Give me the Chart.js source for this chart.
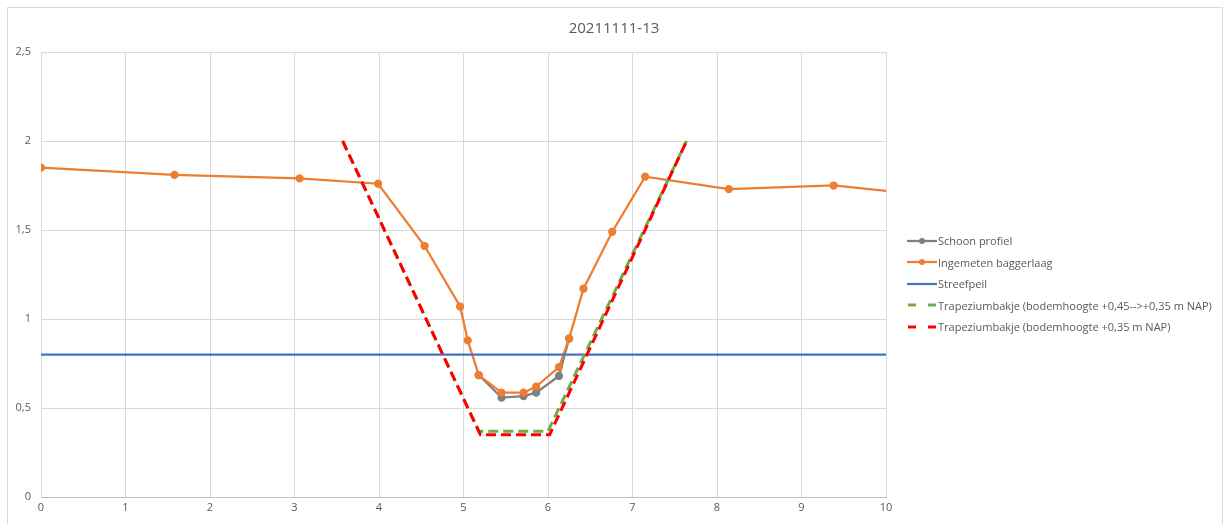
<!DOCTYPE html>
<html>
<head>
<meta charset="utf-8">
<script src="https://cdn.jsdelivr.net/npm/chart.js@4/dist/chart.umd.min.js"></script>
<style>
    body { margin: 0; background: #fff; font-family: "Open Sans", "Noto Sans", sans-serif; }
    #wrap { position: relative; width: 1228px; height: 524px; }
    #frame { position: absolute; left: 7px; top: 7px; width: 1214px; height: 530px; border: 1px solid #d9d9d9; }
    #title { position: absolute; left: 0; width: 1228px; top: 17px; text-align: center; font-size: 15px; color: #595959; }
    #legend { position: absolute; left: 907px; top: 230px; font-size: 11px; color: #595959; }
    #legend div { height: 21.5px; display: flex; align-items: center; white-space: nowrap; }
    #legend svg { margin-right: 1px; }
</style>
</head>
<body>
<div id="wrap">
    <div id="frame"></div>
    <canvas id="chart" width="1228" height="524"></canvas>
    <div id="title">20211111-13</div>
    <div id="legend"></div>
</div>
<script>
// Schoon profiel
const schoonX = [5.18, 5.45, 5.71, 5.86, 6.13, 6.25];
const schoonY = [0.685, 0.558, 0.567, 0.586, 0.68, 0.89];

// Ingemeten baggerlaag
const baggerX = [0, 1.58, 3.06, 3.99, 4.54, 4.96, 5.05, 5.18, 5.45, 5.71, 5.86, 6.13, 6.25, 6.42, 6.76, 7.15, 8.14, 9.38, 10.6];
const baggerY = [1.85, 1.81, 1.79, 1.76, 1.41, 1.07, 0.88, 0.685, 0.586, 0.586, 0.62, 0.73, 0.89, 1.17, 1.49, 1.80, 1.73, 1.75, 1.69];

// Streefpeil
const streefX = [0, 10];
const streefY = [0.8, 0.8];

// Trapeziumbakjes
const trapGroenX = [3.57, 5.18, 6.0, 7.64];
const trapGroenY = [2.0, 0.37, 0.37, 2.0];
const trapRoodX = [3.57, 5.2, 6.02, 7.64];
const trapRoodY = [2.0, 0.35, 0.35, 2.0];

const labels = [
    "Schoon profiel",
    "Ingemeten baggerlaag",
    "Streefpeil",
    "Trapeziumbakje (bodemhoogte +0,45-->+0,35 m NAP)",
    "Trapeziumbakje (bodemhoogte +0,35 m NAP)"
];

function punten(xs, ys) {
    return xs.map((x, i) => ({ x: x, y: ys[i] }));
}

const series = [
    { data: punten(schoonX, schoonY), color: "#7f7f7f", marker: true, dash: [], order: 5 },
    { data: punten(baggerX, baggerY), color: "#ed7d31", marker: true, dash: [], order: 4 },
    { data: punten(streefX, streefY), color: "#4472c4", marker: false, dash: [], order: 3 },
    { data: punten(trapGroenX, trapGroenY), color: "#70ad47", marker: false, dash: [10, 5], order: 2 },
    { data: punten(trapRoodX, trapRoodY), color: "#ff0000", marker: false, dash: [10, 5], order: 1 }
];

const ctx = document.getElementById("chart").getContext("2d");
new Chart(ctx, {
    type: "scatter",
    data: {
        datasets: series.map((s, i) => ({
            label: labels[i],
            data: s.data,
            showLine: true,
            borderColor: s.color,
            backgroundColor: s.color,
            borderWidth: s.dash.length ? 3 : 2.25,
            borderDash: s.dash,
            pointRadius: s.marker ? 3 : 0,
            pointHoverRadius: s.marker ? 3 : 0,
            order: s.order
        }))
    },
    options: {
        responsive: false,
        animation: false,
        layout: { padding: { left: 8, right: 342, top: 52, bottom: 0 } },
        plugins: {
            legend: { display: false },
            tooltip: { enabled: false },
            title: { display: false }
        },
        scales: {
            x: {
                type: "linear",
                min: 0,
                max: 10,
                afterFit: function (scale) { scale.height = 27; },
                ticks: {
                    stepSize: 1,
                    color: "#595959",
                    font: { size: 11, family: "'Open Sans', 'Noto Sans', sans-serif" },
                    padding: 4
                },
                grid: { color: "#d9d9d9", drawTicks: false },
                border: { color: "#bfbfbf" }
            },
            y: {
                min: 0,
                max: 2.5,
                afterFit: function (scale) { scale.width = 33; },
                ticks: {
                    stepSize: 0.5,
                    color: "#595959",
                    font: { size: 11, family: "'Open Sans', 'Noto Sans', sans-serif" },
                    padding: 10,
                    callback: v => String(v).replace(".", ",")
                },
                grid: { color: "#d9d9d9", drawTicks: false },
                border: { display: false }
            }
        }
    }
});

// legenda
const legend = document.getElementById("legend");
series.forEach((s, i) => {
    const row = document.createElement("div");
    let icon = '<svg width="30" height="10">';
    if (s.dash.length) {
        icon += `<line x1="1" y1="5" x2="9" y2="5" stroke="${s.color}" stroke-width="3"/>`;
        icon += `<line x1="21" y1="5" x2="29" y2="5" stroke="${s.color}" stroke-width="3"/>`;
    } else {
        icon += `<line x1="0" y1="5" x2="30" y2="5" stroke="${s.color}" stroke-width="2.25"/>`;
        if (s.marker) icon += `<circle cx="15" cy="5" r="3" fill="${s.color}"/>`;
    }
    icon += "</svg>";
    row.innerHTML = icon + "<span>" + labels[i] + "</span>";
    legend.appendChild(row);
});
</script>
</body>
</html>
